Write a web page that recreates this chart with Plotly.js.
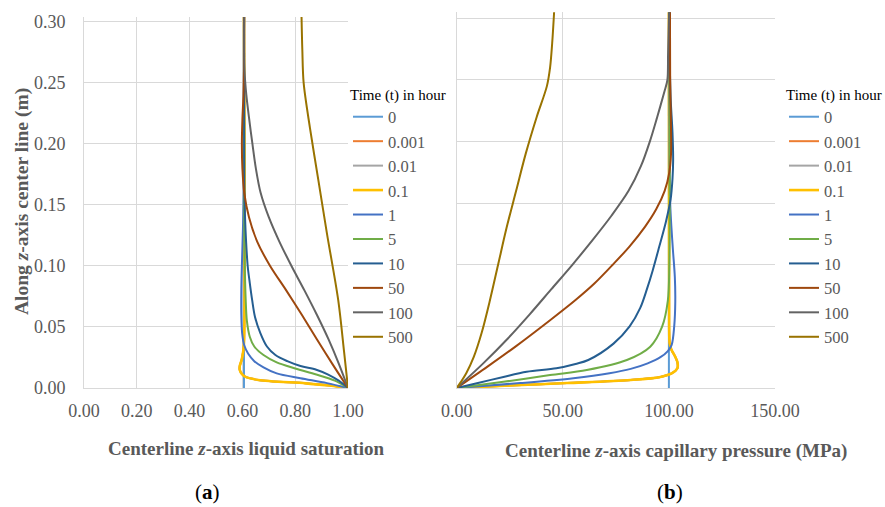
<!DOCTYPE html>
<html>
<head>
<meta charset="utf-8">
<script src="https://cdn.plot.ly/plotly-3.0.1.min.js"></script>
<style>html,body{margin:0;padding:0;background:#fff;}#chart{width:885px;height:507px;}</style>
</head>
<body>
<div id="chart"></div>
<script>
// ---------- legend / series names ----------
const timeLabels = ['0', '0.001', '0.01', '0.1', '1', '5', '10', '50', '100', '500'];
const seriesColors = ['#5B9BD5', '#ED7D31', '#A5A5A5', '#FFC000', '#4472C4', '#70AD47', '#255E91', '#9E480E', '#636363', '#997300'];

// ---------- (a) liquid saturation vs z ----------
const zSat_t0 = [0, 0.304];
const sat_t0 = [0.606, 0.606];
const zSat_t0001 = [0, 0.002, 0.0038, 0.0066, 0.0093, 0.0115, 0.0148, 0.018, 0.023, 0.03, 0.037, 0.304];
const sat_t0001 = [1.0, 0.93, 0.84, 0.66, 0.61, 0.598, 0.59, 0.59, 0.597, 0.603, 0.606, 0.606];
const zSat_t001 = [0, 0.002, 0.0038, 0.0066, 0.0093, 0.0115, 0.0148, 0.018, 0.023, 0.03, 0.037, 0.304];
const sat_t001 = [1.0, 0.93, 0.84, 0.66, 0.61, 0.598, 0.59, 0.59, 0.597, 0.603, 0.606, 0.606];
const zSat_t01 = [0, 0.002, 0.0038, 0.0066, 0.0093, 0.0115, 0.0148, 0.018, 0.023, 0.03, 0.037, 0.304];
const sat_t01 = [1.0, 0.93, 0.84, 0.66, 0.61, 0.598, 0.59, 0.59, 0.597, 0.603, 0.606, 0.606];
const zSat_t1 = [0, 0.004, 0.008, 0.012, 0.017, 0.022, 0.028, 0.035, 0.045, 0.06, 0.08, 0.1, 0.13, 0.16, 0.304];
const sat_t1 = [1.0, 0.92, 0.82, 0.73, 0.68, 0.645, 0.622, 0.607, 0.599, 0.596, 0.596, 0.598, 0.602, 0.605, 0.606];
const zSat_t5 = [0, 0.006, 0.011, 0.016, 0.021, 0.027, 0.034, 0.042, 0.055, 0.075, 0.1, 0.13, 0.304];
const sat_t5 = [1.0, 0.95, 0.88, 0.80, 0.73, 0.68, 0.645, 0.628, 0.617, 0.612, 0.609, 0.607, 0.606];
const zSat_t10 = [0, 0.006, 0.011, 0.015, 0.018, 0.022, 0.027, 0.034, 0.045, 0.058, 0.072, 0.086, 0.1, 0.12, 0.14, 0.17, 0.304];
const sat_t10 = [1.0, 0.965, 0.925, 0.88, 0.82, 0.77, 0.725, 0.693, 0.668, 0.648, 0.637, 0.628, 0.62, 0.614, 0.61, 0.607, 0.606];
const zSat_t50 = [0, 0.02, 0.04, 0.06, 0.08, 0.1, 0.12, 0.14, 0.16, 0.18, 0.2, 0.22, 0.24, 0.26, 0.304];
const sat_t50 = [1.0, 0.94, 0.882, 0.825, 0.766, 0.705, 0.656, 0.625, 0.607, 0.6, 0.598, 0.6, 0.604, 0.606, 0.607];
const zSat_t100 = [0, 0.02, 0.04, 0.06, 0.08, 0.1, 0.12, 0.14, 0.16, 0.18, 0.2, 0.22, 0.24, 0.26, 0.304];
const sat_t100 = [1.0, 0.965, 0.926, 0.882, 0.835, 0.786, 0.74, 0.7, 0.669, 0.651, 0.638, 0.626, 0.615, 0.608, 0.607];
const zSat_t500 = [0, 0.03, 0.072, 0.127, 0.17, 0.213, 0.25, 0.277, 0.304];
const sat_t500 = [1.0, 0.985, 0.963, 0.92, 0.888, 0.856, 0.832, 0.827, 0.824];

// ---------- (b) capillary pressure (MPa) vs z ----------
const zPc_t0 = [0, 0.305];
const pc_t0 = [100, 100];
const zPc_t0001 = [0, 0.002, 0.004, 0.0065, 0.009, 0.012, 0.016, 0.021, 0.026, 0.031, 0.036, 0.05, 0.305];
const pc_t0001 = [0, 25, 52, 82, 96, 101.5, 104, 104, 102.8, 101.2, 100.4, 100.1, 100];
const zPc_t001 = [0, 0.002, 0.004, 0.0065, 0.009, 0.012, 0.016, 0.021, 0.026, 0.031, 0.036, 0.05, 0.305];
const pc_t001 = [0, 25, 52, 82, 96, 101.5, 104, 104, 102.8, 101.2, 100.4, 100.1, 100];
const zPc_t01 = [0, 0.002, 0.004, 0.0065, 0.009, 0.012, 0.016, 0.021, 0.026, 0.031, 0.036, 0.05, 0.305];
const pc_t01 = [0, 25, 52, 82, 96, 101.5, 104, 104, 102.8, 101.2, 100.4, 100.1, 100];
const zPc_t1 = [0, 0.004, 0.008, 0.012, 0.0155, 0.02, 0.025, 0.03, 0.035, 0.05, 0.07, 0.09, 0.112, 0.13, 0.15, 0.18, 0.305];
const pc_t1 = [0, 30, 55, 72, 82, 90, 96, 99.5, 101.3, 102.5, 103, 102.8, 101.9, 101.2, 100.6, 100.3, 100.2];
const zPc_t5 = [0, 0.005, 0.0105, 0.0146, 0.0227, 0.0335, 0.0498, 0.071, 0.1, 0.305];
const pc_t5 = [0, 22, 44, 61.3, 80.2, 91.2, 96.8, 99.5, 100.2, 100.2];
const zPc_t10 = [0, 0.004, 0.009, 0.0132, 0.016, 0.0195, 0.0227, 0.036, 0.05, 0.065, 0.08, 0.095, 0.115, 0.135, 0.153, 0.17, 0.185, 0.207, 0.236, 0.27, 0.305];
const pc_t10 = [0, 10, 22, 33, 47, 56, 62, 73.9, 81.5, 86.5, 89.6, 92.3, 95.5, 98.6, 100.8, 101.7, 102, 101.7, 100.8, 100.4, 100.4];
const zPc_t50 = [0, 0.0173, 0.034, 0.055, 0.0714, 0.085, 0.1, 0.115, 0.131, 0.145, 0.16, 0.175, 0.19, 0.21, 0.25, 0.305];
const pc_t50 = [0, 14.5, 28, 44, 56, 65, 73.5, 81.5, 88.8, 94, 98, 100.2, 101, 101, 100.6, 100.5];
const zPc_t100 = [0, 0.02, 0.04, 0.06, 0.08, 0.1, 0.12, 0.14, 0.16, 0.18, 0.2, 0.22, 0.24, 0.25, 0.27, 0.305];
const pc_t100 = [0, 12.5, 24, 34.5, 44.5, 54.5, 64, 73, 81, 86.8, 91, 94.5, 97.8, 99.3, 99.6, 100.1];
const zPc_t500 = [0, 0.005, 0.012, 0.025, 0.045, 0.07, 0.1, 0.13, 0.16, 0.19, 0.22, 0.245, 0.26, 0.28, 0.305];
const pc_t500 = [0, 2, 4.5, 8, 11.8, 15.5, 19.5, 23.5, 28, 32.5, 37.7, 42.5, 44, 45, 45.9];

const satZ = [zSat_t0, zSat_t0001, zSat_t001, zSat_t01, zSat_t1, zSat_t5, zSat_t10, zSat_t50, zSat_t100, zSat_t500];
const satX = [sat_t0, sat_t0001, sat_t001, sat_t01, sat_t1, sat_t5, sat_t10, sat_t50, sat_t100, sat_t500];
const pcZ = [zPc_t0, zPc_t0001, zPc_t001, zPc_t01, zPc_t1, zPc_t5, zPc_t10, zPc_t50, zPc_t100, zPc_t500];
const pcX = [pc_t0, pc_t0001, pc_t001, pc_t01, pc_t1, pc_t5, pc_t10, pc_t50, pc_t100, pc_t500];

const FONT = 'Liberation Serif, Times New Roman, serif';
const GRID = '#d9d9d9';
const TXT = '#595959';

const traces = [];
timeLabels.forEach((lab, i) => {
  const w = (lab === '0.1') ? 2.6 : 2;
  traces.push({
    x: satX[i], y: satZ[i], type: 'scatter', mode: 'lines', name: lab,
    line: {color: seriesColors[i], width: w, shape: 'spline', smoothing: 0.9},
    xaxis: 'x', yaxis: 'y', legend: 'legend'
  });
});
timeLabels.forEach((lab, i) => {
  const w = (lab === '0.1') ? 2.6 : 2;
  traces.push({
    x: pcX[i], y: pcZ[i], type: 'scatter', mode: 'lines', name: lab,
    line: {color: seriesColors[i], width: w, shape: 'spline', smoothing: 0.9},
    xaxis: 'x2', yaxis: 'y2', legend: 'legend2'
  });
});

const W = 885, H = 507;
const px = v => v / W;
const py = v => 1 - v / H;

const axisCommon = {
  showgrid: true, gridcolor: GRID, gridwidth: 1, zeroline: false,
  showline: true, linecolor: GRID, linewidth: 1, mirror: false,
  ticks: '', tickfont: {family: FONT, size: 18, color: TXT}, tickformat: '.2f'
};

const legendCommon = {
  xanchor: 'left', yanchor: 'top', orientation: 'v',
  bgcolor: 'rgba(0,0,0,0)', borderwidth: 0, itemwidth: 30, tracegroupgap: 0,
  font: {family: FONT, size: 16.5, color: TXT},
  title: {text: 'Time (t) in hour', font: {family: FONT, size: 15, color: '#000000'}, side: 'top'}
};

const layout = {
  width: W, height: H,
  margin: {l: 0, r: 0, t: 0, b: 0},
  paper_bgcolor: '#ffffff', plot_bgcolor: '#ffffff',
  showlegend: true,
  font: {family: FONT, color: TXT},
  xaxis: Object.assign({}, axisCommon, {domain: [px(84), px(348)], range: [0, 1], dtick: 0.2, tick0: 0, anchor: 'y', ticklabelstandoff: 6}),
  yaxis: Object.assign({}, axisCommon, {domain: [py(388), py(16.7)], range: [0, 0.3043], dtick: 0.05, tick0: 0, anchor: 'x', ticklabelstandoff: 14}),
  xaxis2: Object.assign({}, axisCommon, {domain: [px(456.7), px(775)], range: [0, 150], dtick: 50, tick0: 0, anchor: 'y2', ticklabelstandoff: 6}),
  yaxis2: Object.assign({}, axisCommon, {domain: [py(388), py(11.7)], range: [0, 0.3054], dtick: 0.05, tick0: 0, anchor: 'x2', showticklabels: false}),
  legend: Object.assign({}, legendCommon, {x: px(348), y: py(80)}),
  legend2: Object.assign({}, legendCommon, {x: px(784), y: py(80)}),
  annotations: [
    {text: '<b>Along <i>z</i>-axis center line (m)</b>', x: px(22), y: py(202), xref: 'paper', yref: 'paper',
     textangle: -90, showarrow: false, xanchor: 'center', yanchor: 'middle', font: {family: FONT, size: 19.5, color: TXT}},
    {text: '<b>Centerline <i>z</i>-axis liquid saturation</b>', x: px(246.5), y: py(448), xref: 'paper', yref: 'paper',
     showarrow: false, xanchor: 'center', yanchor: 'middle', font: {family: FONT, size: 19, color: TXT}},
    {text: '<b>Centerline <i>z</i>-axis capillary pressure (MPa)</b>', x: px(675.5), y: py(451), xref: 'paper', yref: 'paper',
     showarrow: false, xanchor: 'center', yanchor: 'middle', font: {family: FONT, size: 19, color: TXT}},
    {text: '(<b>a</b>)', x: px(207), y: py(492), xref: 'paper', yref: 'paper',
     showarrow: false, xanchor: 'center', yanchor: 'middle', font: {family: FONT, size: 21, color: '#000000'}},
    {text: '(<b>b</b>)', x: px(670), y: py(492), xref: 'paper', yref: 'paper',
     showarrow: false, xanchor: 'center', yanchor: 'middle', font: {family: FONT, size: 21, color: '#000000'}}
  ]
};

Plotly.newPlot('chart', traces, layout, {displayModeBar: false, staticPlot: true});
</script>
</body>
</html>
